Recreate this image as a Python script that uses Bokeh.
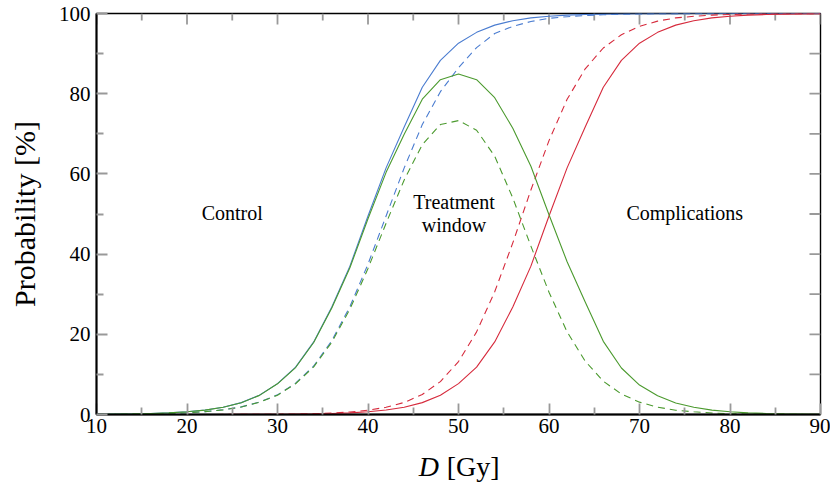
from bokeh.plotting import figure
from bokeh.layouts import column
from bokeh.models import FixedTicker, ColumnDataSource
from bokeh.core.properties import value
from bokeh.embed import file_html
from bokeh.resources import INLINE

# Dose axis [Gy]
dose = [10, 12, 14, 16, 18, 20, 22, 24, 26, 28, 30, 32, 34, 36, 38, 40, 42, 44, 46, 48, 50,
        52, 54, 56, 58, 60, 62, 64, 66, 68, 70, 72, 74, 76, 78, 80, 82, 84, 86, 88, 90]

# Tumour control probability [%] (solid / dashed)
tcp_solid = [0.05, 0.09, 0.15, 0.25, 0.41, 0.67, 1.11, 1.82, 2.96, 4.8, 7.7, 11.8, 18.1, 26.8,
             37.0, 49.5, 61.5, 71.7, 81.6, 88.3, 92.6, 95.3, 97.1, 98.2, 98.9, 99.3, 99.6, 99.75,
             99.85, 99.9, 99.94, 99.96, 99.98, 99.99, 99.99, 100.0, 100.0, 100.0, 100.0, 100.0, 100.0]
tcp_dashed = [0.04, 0.06, 0.1, 0.17, 0.27, 0.45, 0.72, 1.18, 1.9, 3.1, 4.9, 7.8, 12.1, 18.4,
              26.9, 37.5, 49.5, 61.5, 72.3, 80.5, 86.5, 91.5, 95.0, 96.8, 98.0, 98.8, 99.2, 99.5,
              99.7, 99.8, 99.88, 99.93, 99.96, 99.97, 99.98, 99.99, 99.99, 99.99, 99.99, 99.99, 99.99]

# Normal tissue complication probability [%] (solid / dashed)
ntcp_solid = [0.0, 0.0, 0.0, 0.0, 0.0, 0.0, 0.01, 0.01, 0.02, 0.03, 0.05, 0.09, 0.15, 0.25,
              0.41, 0.67, 1.11, 1.82, 2.96, 4.8, 7.7, 11.8, 18.1, 26.8, 37.0, 49.5, 61.5, 71.7,
              81.6, 88.3, 92.6, 95.3, 97.1, 98.2, 98.9, 99.3, 99.6, 99.75, 99.85, 99.9, 99.94]
ntcp_dashed = [0.0, 0.0, 0.0, 0.0, 0.0, 0.01, 0.01, 0.02, 0.03, 0.05, 0.08, 0.13, 0.22, 0.37,
               0.63, 1.07, 1.8, 3.0, 5.0, 8.2, 13.2, 20.6, 30.6, 42.8, 56.0, 68.3, 78.6, 86.2,
               91.4, 94.7, 96.8, 98.1, 98.9, 99.3, 99.6, 99.77, 99.86, 99.92, 99.95, 99.97, 99.98]

# Treatment window (uncomplicated control) [%] (solid / dashed)
win_solid = [0.05, 0.09, 0.15, 0.25, 0.41, 0.67, 1.1, 1.81, 2.94, 4.77, 7.65, 11.71, 17.95, 26.55,
             36.59, 48.83, 60.39, 69.88, 78.64, 83.5, 84.9, 83.5, 79.0, 71.4, 61.9, 49.8, 38.1,
             28.05, 18.25, 11.6, 7.34, 4.66, 2.88, 1.79, 1.09, 0.69, 0.4, 0.25, 0.15, 0.1, 0.06]
win_dashed = [0.04, 0.06, 0.1, 0.17, 0.27, 0.44, 0.71, 1.16, 1.87, 3.05, 4.82, 7.67, 11.88, 18.03,
              26.27, 36.43, 47.7, 58.5, 67.3, 72.3, 73.3, 70.9, 64.4, 54.0, 42.0, 30.5, 20.6,
              13.3, 8.3, 5.1, 3.08, 1.83, 1.06, 0.67, 0.38, 0.22, 0.13, 0.07, 0.04, 0.02, 0.01]

# Region annotations
region_labels = ["Control", "Treatment", "window", "Complications"]
region_x = [25.0, 49.5, 49.5, 75.0]
region_y = [50.2, 52.9, 47.2, 50.2]

# Axis titles
y_title = "Probability [%]"
x_title_parts = ["D", "[Gy]"]

x_ticks = [10, 20, 30, 40, 50, 60, 70, 80, 90]
x_minor = [15, 25, 35, 45, 55, 65, 75, 85]
y_ticks = [0, 20, 40, 60, 80, 100]
y_minor = [10, 30, 50, 70, 90]

SERIF = "Liberation Serif"
BLUE = "#4a7cd0"
RED = "#d62a3c"
GREEN = "#4b9a2e"
TICK = "#999999"

MAIN_H = 450
p = figure(width=830, height=MAIN_H, x_range=(10, 90), y_range=(0, 100),
           output_backend="svg", toolbar_location=None,
           min_border_left=96, min_border_right=10, min_border_top=13,
           min_border_bottom=MAIN_H - 414)
p.grid.visible = False
p.background_fill_color = "white"
p.border_fill_color = "white"
p.outline_line_color = "black"
p.outline_line_width = 1.4

xa = p.below[0]
ya = p.left[0]

src = ColumnDataSource(dict(d=dose, tcp=tcp_solid, tcpd=tcp_dashed, ntcp=ntcp_solid,
                            ntcpd=ntcp_dashed, w=win_solid, wd=win_dashed))

# tick marks on the top and right frame edges (style only)
XPX = 723 / 80.0   # pixels per Gy
YPX = 400 / 100.0  # pixels per %
tick_src_top = ColumnDataSource(dict(
    x=x_ticks + x_minor,
    y0=[100.0] * (len(x_ticks) + len(x_minor)),
    y1=[100 - 11 / YPX] * len(x_ticks) + [100 - 7 / YPX] * len(x_minor)))
tick_src_right = ColumnDataSource(dict(
    y=y_ticks + y_minor,
    x0=[90.0] * (len(y_ticks) + len(y_minor)),
    x1=[90 - 11 / XPX] * (len(y_ticks) + len(y_minor))))
p.segment(x0="x", y0="y0", x1="x", y1="y1", source=tick_src_top,
          line_color=TICK, line_width=1.8)
p.segment(x0="x0", y0="y", x1="x1", y1="y", source=tick_src_right,
          line_color=TICK, line_width=1.8)

p.line("d", "tcp", source=src, color=BLUE, line_width=1.1)
p.line("d", "tcpd", source=src, color=BLUE, line_width=1.1, line_dash="7 5")
p.line("d", "ntcp", source=src, color=RED, line_width=1.1)
p.line("d", "ntcpd", source=src, color=RED, line_width=1.1, line_dash="7 5")
p.line("d", "w", source=src, color=GREEN, line_width=1.1)
p.line("d", "wd", source=src, color=GREEN, line_width=1.1, line_dash="7 5")

tsrc = ColumnDataSource(dict(x=region_x, y=region_y, t=region_labels))
p.text("x", "y", text="t", source=tsrc, text_font=value(SERIF), text_font_size="20px",
       text_align="center", text_baseline="middle", text_color="black")

xa.ticker = FixedTicker(ticks=x_ticks, minor_ticks=x_minor)
ya.ticker = FixedTicker(ticks=y_ticks, minor_ticks=y_minor)

for ax in [xa, ya]:
    ax.major_tick_in = 11
    ax.major_tick_out = 0
    ax.minor_tick_in = 7
    ax.minor_tick_out = 0
    ax.major_tick_line_color = TICK
    ax.minor_tick_line_color = TICK
    ax.major_tick_line_width = 1.8
    ax.minor_tick_line_width = 1.8
    ax.major_label_text_font = SERIF
    ax.major_label_text_font_size = "21px"
    ax.major_label_text_color = "black"
    ax.axis_line_color = "black"
    ax.axis_line_width = 2

xa.major_label_standoff = 4
ya.major_label_standoff = 6
ya.axis_label = y_title
ya.axis_label_text_font = SERIF
ya.axis_label_text_font_size = "30px"
ya.axis_label_text_font_style = "normal"
ya.axis_label_text_color = "black"
ya.axis_label_standoff = 15

# strip below the chart carrying the x axis title (italic D, upright [Gy]);
# its frame is aligned with the chart's frame by the column layout, so use the same x range
CAP_H = 487 - MAIN_H
cap = figure(width=830, height=CAP_H, x_range=p.x_range, y_range=(CAP_H, 0),
             output_backend="svg", toolbar_location=None, x_axis_type=None, y_axis_type=None,
             min_border=0, min_border_left=96, min_border_right=10)
cap.grid.visible = False
cap.outline_line_color = None
cap.background_fill_color = "white"
cap.border_fill_color = "white"
cap.text(x=[45.6], y=[466 - MAIN_H], text=[x_title_parts[0]], text_font=value(SERIF),
         text_font_size="28px", text_font_style="italic", text_align="left",
         text_baseline="middle", text_color="black")
cap.text(x=[48.7], y=[466 - MAIN_H], text=[x_title_parts[1]], text_font=value(SERIF),
         text_font_size="28px", text_align="left", text_baseline="middle", text_color="black")

layout = column(p, cap, spacing=0)
open("out.html", "w").write(file_html(layout, INLINE))
